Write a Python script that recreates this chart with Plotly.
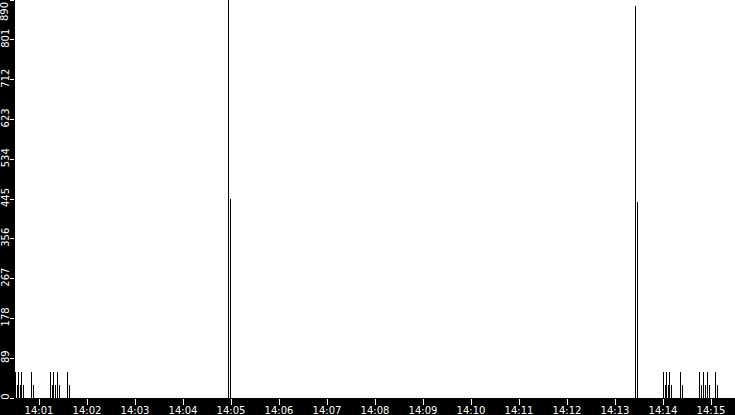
import datetime as dt
import plotly.graph_objs as go

# Burst events (start time, peak value, trailing echo value)
spike_times = [
    "14:00:31", "14:00:34.5", "14:00:38.5", "14:00:51",
    "14:01:14.5", "14:01:18.5", "14:01:23.5", "14:01:36",
    "14:04:56.3",
    "14:13:25",
    "14:14:01", "14:14:04.5", "14:14:08.5", "14:14:22",
    "14:14:46", "14:14:51", "14:14:56", "14:15:06",
]
spike_peaks = [58, 58, 58, 58, 58, 58, 58, 58, 895, 877,
               58, 58, 58, 58, 58, 58, 58, 58]
echo_values = [29, 29, 29, 29, 29, 29, 29, 29, 445, 438,
               29, 29, 29, 29, 29, 29, 29, 29]
ECHO_LAG_S = 2.5

y_ticks = [0, 89, 178, 267, 356, 445, 534, 623, 712, 801, 890]
x_start = "14:00:30"
x_end = "14:15:30"

DAY = "2024-01-01 "


def to_dt(t):
    return dt.datetime.fromisoformat(DAY + t)


def build_series():
    """Stem style path: peak line, then echo line, joined at zero."""
    xs, ys = [], []
    for t, peak, echo in zip(spike_times, spike_peaks, echo_values):
        t0 = to_dt(t)
        t1 = t0 + dt.timedelta(seconds=ECHO_LAG_S)
        xs += [t0, t0, t0, t1, t1, t1]
        ys += [0, peak, 0, 0, echo, 0]
    return xs, ys


xs, ys = build_series()

fig = go.Figure(go.Scatter(x=xs, y=ys, mode="lines",
                           line=dict(color="black", width=1),
                           hoverinfo="skip"))

font = dict(family="DejaVu Sans", size=10, color="white")

fig.update_layout(
    width=735, height=415,
    margin=dict(l=15, r=0, t=0, b=17, pad=0),
    paper_bgcolor="black",
    plot_bgcolor="white",
    showlegend=False,
    font=font,
    xaxis=dict(
        type="date",
        range=[to_dt(x_start), to_dt(x_end)],
        dtick=60000,
        tick0=to_dt("14:00:00"),
        tickformat="%H:%M",
        ticks="outside", ticklen=6, tickcolor="white", tickwidth=1,
        ticklabelstandoff=-3,
        showgrid=False, zeroline=False, showline=False,
        automargin=False, tickfont=font,
    ),
    yaxis=dict(
        range=[0, 890],
        tickvals=y_ticks,
        ticktext=[str(v) if v != 890 else "" for v in y_ticks],
        tickangle=-90,
        ticks="outside", ticklen=4, tickcolor="white", tickwidth=1,
        ticklabelstandoff=-3,
        showgrid=False, zeroline=False, showline=False,
        automargin=False, tickfont=font,
    ),
    # top label kept inside the page, as in the original
    annotations=[dict(
        text="890", xref="paper", yref="paper", x=0, y=1,
        xanchor="right", yanchor="top", xshift=-4, yshift=-1,
        borderpad=0, textangle=-90, showarrow=False, font=font,
    )],
)

# drop the page margin and keep the 1px lines crisp
post = """
document.body.style.margin = '0';
document.querySelectorAll('.scatterlayer path').forEach(function (p) {
    p.style.shapeRendering = 'crispEdges';
});
"""

fig.write_html("out.html", config={"displayModeBar": False}, post_script=post)
